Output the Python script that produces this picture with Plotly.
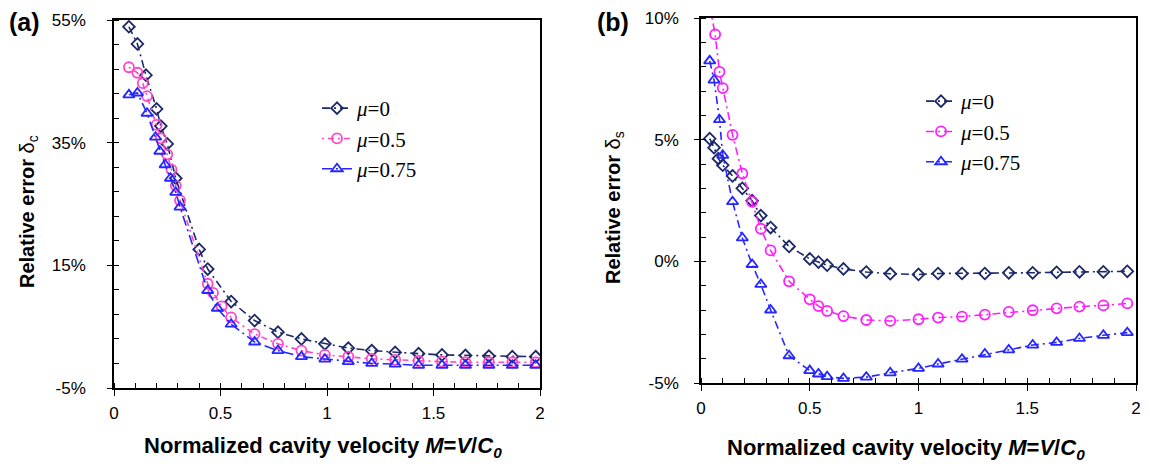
import plotly.graph_objects as go

# ---------------- data ----------------
series_names = ["μ=0", "μ=0.5", "μ=0.75"]

# Panel (a): relative error delta_c (%)
a_x0 = [0.07, 0.11, 0.15, 0.20, 0.22, 0.25, 0.29, 0.40, 0.44, 0.55, 0.66, 0.77, 0.88, 0.99,
        1.10, 1.21, 1.32, 1.43, 1.54, 1.65, 1.76, 1.87, 1.98]
a_y0 = [53.9, 51.1, 46.0, 40.5, 37.7, 34.8, 29.2, 17.6, 14.4, 9.1, 6.0, 4.1, 3.0, 2.2,
        1.5, 1.1, 0.8, 0.6, 0.4, 0.3, 0.2, 0.1, 0.1]

a_x1 = [0.07, 0.11, 0.135, 0.155, 0.20, 0.22, 0.25, 0.27, 0.29, 0.31, 0.44, 0.465, 0.505, 0.55,
        0.66, 0.77, 0.88, 0.99, 1.10, 1.21, 1.32, 1.43, 1.54, 1.65, 1.76, 1.87, 1.98]
a_y1 = [47.3, 46.4, 44.7, 42.6, 37.9, 35.7, 33.1, 30.6, 28.0, 25.6, 12.0, 10.5, 8.3, 6.5,
        3.8, 2.2, 1.1, 0.4, 0.1, -0.25, -0.4, -0.6, -0.7, -0.8, -0.8, -0.8, -0.8]

a_x2 = [0.07, 0.11, 0.155, 0.195, 0.215, 0.24, 0.265, 0.29, 0.31, 0.44, 0.485, 0.55, 0.66,
        0.77, 0.88, 0.99, 1.10, 1.21, 1.32, 1.43, 1.54, 1.65, 1.76, 1.87, 1.98]
a_y2 = [42.8, 43.1, 39.8, 35.9, 33.6, 31.4, 29.2, 26.9, 24.5, 10.9, 8.0, 5.4, 2.5,
        1.1, 0.1, -0.3, -0.7, -1.0, -1.1, -1.3, -1.3, -1.3, -1.3, -1.3, -1.3]

# Panel (b): relative error delta_s (%)
b_x0 = [0.04, 0.06, 0.08, 0.10, 0.145, 0.19, 0.235, 0.275, 0.32, 0.405, 0.50, 0.54, 0.58, 0.655,
        0.76, 0.87, 1.00, 1.09, 1.20, 1.305, 1.415, 1.525, 1.635, 1.74, 1.85, 1.96]
b_y0 = [5.04, 4.67, 4.22, 3.95, 3.51, 3.0, 2.49, 1.88, 1.39, 0.61, 0.1, -0.03, -0.16, -0.31,
        -0.44, -0.51, -0.54, -0.5, -0.5, -0.5, -0.47, -0.47, -0.45, -0.43, -0.43, -0.41]

b_x1 = [0.04, 0.065, 0.085, 0.10, 0.145, 0.19, 0.235, 0.275, 0.32, 0.405, 0.50, 0.54, 0.58, 0.655,
        0.76, 0.87, 1.00, 1.09, 1.20, 1.305, 1.415, 1.525, 1.635, 1.74, 1.85, 1.96]
b_y1 = [10.5, 9.33, 7.79, 7.12, 5.2, 3.61, 2.45, 1.34, 0.45, -0.82, -1.56, -1.84, -2.04, -2.25,
        -2.41, -2.45, -2.38, -2.31, -2.27, -2.19, -2.08, -2.01, -1.93, -1.86, -1.81, -1.73]

b_x2 = [0.04, 0.06, 0.085, 0.10, 0.145, 0.19, 0.235, 0.275, 0.32, 0.405, 0.50, 0.54, 0.58, 0.655,
        0.76, 0.87, 1.00, 1.09, 1.20, 1.305, 1.415, 1.525, 1.635, 1.74, 1.85, 1.96]
b_y2 = [8.24, 7.45, 5.82, 4.36, 2.45, 0.96, -0.13, -0.95, -2.0, -3.88, -4.49, -4.63, -4.74, -4.81,
        -4.76, -4.58, -4.40, -4.22, -4.02, -3.81, -3.64, -3.44, -3.33, -3.17, -3.04, -2.93]

x_ticks = [0, 0.5, 1, 1.5, 2]
x_ticklabels = ["0", "0.5", "1", "1.5", "2"]
a_yticks = [-5, 15, 35, 55]
a_yticklabels = ["-5%", "15%", "35%", "55%"]
b_yticks = [-5, 0, 5, 10]
b_yticklabels = ["-5%", "0%", "5%", "10%"]

# ---------------- styles ----------------
# the page body has an 8px margin, so the figure is sized to fit the window
OFF = 8
W, H = 1150 - OFF, 467 - OFF
NAVY = "#1c2868"
PINK_A = "#ff45c8"
PINK_B = "#ff1eff"
BLUE = "#2626ff"
DASH = "8px,4px,2px,4px"
LEG_FONT = dict(family="Liberation Serif", size=21, color="black")
TICK_FONT = dict(family="Liberation Sans", size=17, color="black")

def px_x(p):
    return (p - OFF) / W

def px_y(p):
    return 1 - (p - OFF) / H

fig = go.Figure()

def legtext(name):
    mu, rest = name.split("=")
    return "<i>" + mu + "</i>=" + rest

specs_a = [
    (a_x0, a_y0, NAVY, "diamond-open", 9, DASH),
    (a_x1, a_y1, PINK_A, "circle-open", 10, "2px,4px,6px,4px"),
    (a_x2, a_y2, BLUE, "triangle-up-open", 10, "10px,4px,2px,4px"),
]
specs_b = [
    (b_x0, b_y0, NAVY, "diamond-open", 9, DASH),
    (b_x1, b_y1, PINK_B, "circle-open", 10, DASH),
    (b_x2, b_y2, BLUE, "triangle-up-open", 10, DASH),
]

for i, (xs, ys, col, sym, sz, dash) in enumerate(specs_a):
    fig.add_trace(go.Scatter(
        x=xs, y=ys, mode="lines+markers", name=legtext(series_names[i]),
        xaxis="x", yaxis="y", legend="legend", legendgroup="a%d" % i,
        line=dict(color=col, width=1.6, dash=dash),
        marker=dict(symbol=sym, size=sz, color=col, line=dict(width=1.8, color=col)),
    ))
for i, (xs, ys, col, sym, sz, dash) in enumerate(specs_b):
    fig.add_trace(go.Scatter(
        x=xs, y=ys, mode="lines+markers", name=legtext(series_names[i]),
        xaxis="x2", yaxis="y2", legend="legend2", legendgroup="b%d" % i,
        line=dict(color=col, width=1.6, dash=dash),
        marker=dict(symbol=sym, size=sz, color=col, line=dict(width=1.8, color=col)),
    ))

def xaxis_cfg(dom, anchor):
    return dict(
        domain=dom, anchor=anchor, range=[0, 2], tickvals=x_ticks, ticktext=x_ticklabels,
        showgrid=False, zeroline=False, showline=True, linecolor="black", linewidth=1.5,
        mirror=True, ticks="outside", ticklen=6, tickwidth=1.2, tickcolor="black",
        tickfont=TICK_FONT, ticklabelstandoff=3, automargin=False,
        minor=dict(dtick=0.1, tick0=0, ticks="inside", ticklen=5, tickwidth=1, tickcolor="black", showgrid=False),
    )

def yaxis_cfg(dom, anchor, rng, vals, texts, mdt, standoff):
    return dict(
        domain=dom, anchor=anchor, range=rng, tickvals=vals, ticktext=texts,
        showgrid=False, zeroline=False, showline=True, linecolor="black", linewidth=1.5,
        mirror=True, ticks="outside", ticklen=5, tickwidth=1.2, tickcolor="black",
        tickfont=TICK_FONT, ticklabelstandoff=standoff, automargin=False,
        minor=dict(dtick=mdt, tick0=rng[0], ticks="inside", ticklen=5, tickwidth=1, tickcolor="black", showgrid=False),
    )

fig.update_layout(
    width=W, height=H,
    margin=dict(l=0, r=0, t=0, b=0, pad=0, autoexpand=False),
    paper_bgcolor="white", plot_bgcolor="white",
    showlegend=True,
    xaxis=xaxis_cfg([px_x(114), px_x(540)], "y"),
    yaxis=yaxis_cfg([px_y(388), px_y(20)], "x", [-5, 55], a_yticks, a_yticklabels, 4, 18),
    xaxis2=xaxis_cfg([px_x(701), px_x(1136)], "y2"),
    yaxis2=yaxis_cfg([px_y(383), px_y(18)], "x2", [-5, 10], b_yticks, b_yticklabels, 1, 12),
    legend=dict(x=px_x(317), y=px_y(88), xanchor="left", yanchor="top",
                font=LEG_FONT, bgcolor="rgba(0,0,0,0)", tracegroupgap=0, itemwidth=30),
    legend2=dict(x=px_x(921), y=px_y(81), xanchor="left", yanchor="top",
                 font=LEG_FONT, bgcolor="rgba(0,0,0,0)", tracegroupgap=0, itemwidth=30),
)

TITLE_FONT = dict(family="Liberation Sans", size=22, color="black")
YTITLE_FONT = dict(family="Liberation Sans", size=20, color="black")
xt = "<b>Normalized cavity velocity <i>M</i>=<i>V</i>/<i>C</i><sub><i>0</i></sub></b>"
yt_a = "<b>Relative error</b> δ<sub>c</sub>"
yt_b = "<b>Relative error</b> δ<sub>s</sub>"

annots = [
    dict(text=xt, x=px_x(323), y=px_y(447), xref="paper", yref="paper", showarrow=False,
         font=TITLE_FONT, xanchor="center", yanchor="middle"),
    dict(text=xt, x=px_x(906), y=px_y(449), xref="paper", yref="paper", showarrow=False,
         font=TITLE_FONT, xanchor="center", yanchor="middle"),
    dict(text=yt_a, x=px_x(28), y=px_y(212), xref="paper", yref="paper", showarrow=False,
         font=YTITLE_FONT, textangle=-90, xanchor="center", yanchor="middle"),
    dict(text=yt_b, x=px_x(614), y=px_y(208), xref="paper", yref="paper", showarrow=False,
         font=YTITLE_FONT, textangle=-90, xanchor="center", yanchor="middle"),
    dict(text="<b>(a)</b>", x=px_x(24), y=px_y(22), xref="paper", yref="paper", showarrow=False,
         font=dict(family="Liberation Sans", size=25, color="black"), xanchor="center", yanchor="middle"),
    dict(text="<b>(b)</b>", x=px_x(613), y=px_y(22), xref="paper", yref="paper", showarrow=False,
         font=dict(family="Liberation Sans", size=25, color="black"), xanchor="center", yanchor="middle"),
]
fig.update_layout(annotations=annots)

fig.write_html("out.html")
